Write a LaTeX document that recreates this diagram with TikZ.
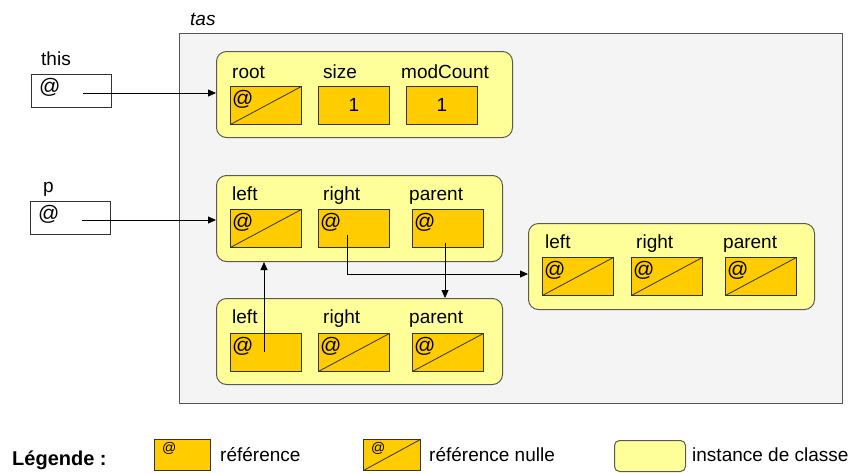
\documentclass[tikz,border=0pt]{standalone}
\usepackage{fontspec}
\setmainfont{Liberation Sans}
\usetikzlibrary{arrows.meta}
\definecolor{bggray}{HTML}{F4F4F4}
\definecolor{frameg}{HTML}{555555}
\definecolor{objyel}{HTML}{FFFF99}
\definecolor{objbord}{HTML}{5A5A50}
\definecolor{fieldor}{HTML}{FFCC00}
\definecolor{fieldbd}{HTML}{333333}
\tikzset{
  txt/.style={inner sep=0pt, anchor=base west, font=\fontsize{19}{21}\selectfont},
  attxt/.style={inner sep=0pt, anchor=base west, font=\fontsize{21}{23}\selectfont},
  obj/.style={draw=objbord, fill=objyel, line width=1pt, rounded corners=10pt, anchor=north west, minimum width=286pt, minimum height=86pt, inner sep=0pt},
  field/.style={draw=fieldbd, fill=fieldor, line width=0.9pt, anchor=north west, minimum width=71pt, minimum height=38pt, inner sep=0pt},
  nullfield/.style={field, path picture={\draw[fieldbd, line width=0.8pt] (path picture bounding box.south west) -- (path picture bounding box.north east);}},
  varbox/.style={draw=black!80, fill=white, line width=0.8pt, anchor=north west, minimum width=80pt, minimum height=33pt, inner sep=0pt},
  arr/.style={draw=black, line width=0.8pt, -{Triangle[length=8pt,width=7pt]}},
}
\begin{document}
\begin{tikzpicture}[x=1pt,y=-1pt]
\useasboundingbox (0,0) rectangle (856,472);
% tas frame
\node[draw=frameg, fill=bggray, line width=0.9pt, anchor=north west, minimum width=663pt, minimum height=370pt, inner sep=0pt] (tasbox) at (179,33) {};
\node[txt, font=\fontsize{19}{21}\selectfont\itshape] (taslbl) at (190,25) {tas};
% variables
\node[txt] (thislbl) at (41,65) {this};
\node[varbox] (thisbox) at (31,74) {};
\node[attxt] (thisat) at ([shift={(8,19)}]thisbox.north west) {@};
\coordinate (thisptr) at (83,93);
\node[txt] (plbl) at (43,192) {p};
\node[varbox] (pbox) at (30,201) {};
\node[attxt] (pat) at ([shift={(8,19)}]pbox.north west) {@};
\coordinate (pptrv) at (82,220);
% top object
\node[obj, minimum width=296pt] (topobj) at (216,51) {};
\node[txt] (l1) at (232,78) {root};
\node[txt] (l2) at (323,78) {size};
\node[txt] (l3) at (401,78) {modCount};
\node[nullfield] (rootf) at (230,86) {};
\node[field] (sizef) at (318,86) {\fontsize{19}{21}\selectfont 1};
\node[field] (modf) at (406,86) {\fontsize{19}{21}\selectfont 1};
\node[attxt] (rootat) at ([shift={(2,19)}]rootf.north west) {@};
% middle object
\node[obj] (midobj) at (216,175) {};
\node[txt] (m1) at (232,200) {left};
\node[txt] (m2) at (323,200) {right};
\node[txt] (m3) at (409,200) {parent};
\node[nullfield] (mleft) at (230,209) {};
\node[field] (mright) at (318,209) {};
\node[field] (mpar) at (412,209) {};
\node[attxt] (mleftat) at ([shift={(2,19)}]mleft.north west) {@};
\node[attxt] (mrightat) at ([shift={(2,19)}]mright.north west) {@};
\node[attxt] (mparat) at ([shift={(2,19)}]mpar.north west) {@};
% bottom object
\node[obj] (botobj) at (216,298) {};
\node[txt] (b1) at (232,323) {left};
\node[txt] (b2) at (323,323) {right};
\node[txt] (b3) at (409,323) {parent};
\node[field] (bleft) at (230,333) {};
\node[nullfield] (bright) at (318,333) {};
\node[nullfield] (bpar) at (412,333) {};
\node[attxt] (bleftat) at ([shift={(2,19)}]bleft.north west) {@};
\node[attxt] (brightat) at ([shift={(2,19)}]bright.north west) {@};
\node[attxt] (bparat) at ([shift={(2,19)}]bpar.north west) {@};
% right object
\node[obj] (rightobj) at (528,223) {};
\node[txt] (r1) at (545,248) {left};
\node[txt] (r2) at (636,248) {right};
\node[txt] (r3) at (723,248) {parent};
\node[nullfield] (rleft) at (542,257) {};
\node[nullfield] (rright) at (631,257) {};
\node[nullfield] (rpar) at (725,257) {};
\node[attxt] (rleftat) at ([shift={(2,19)}]rleft.north west) {@};
\node[attxt] (rrightat) at ([shift={(2,19)}]rright.north west) {@};
\node[attxt] (rparat) at ([shift={(2,19)}]rpar.north west) {@};
% pointers
\draw[arr] (thisptr) -- (thisptr -| topobj.west);
\draw[arr] (pptrv) -- (pptrv -| midobj.west);
\coordinate (rptr) at (347,235);
\coordinate (rturn) at (347,274);
\draw[arr] (rptr) -- (rturn) -- (rturn -| rightobj.west);
\coordinate (parptr) at (445,243);
\draw[arr] (parptr) -- (parptr |- botobj.north);
\coordinate (lptr) at (264,352);
\draw[arr] (lptr) -- (lptr |- midobj.south);
% legend
\node[txt, font=\fontsize{20}{22}\selectfont\bfseries] (leg) at (12,465) {Légende :};
\node[field, minimum width=56pt, minimum height=31pt] (legref) at (154,439) {};
\node[txt, font=\fontsize{14}{16}\selectfont] (legrefat) at ([shift={(8,13)}]legref.north west) {@};
\node[txt] (legreft) at (220,461) {référence};
\node[nullfield, minimum width=57pt, minimum height=31pt] (legnull) at (363,439) {};
\node[txt, font=\fontsize{14}{16}\selectfont] (legnullat) at ([shift={(8,13)}]legnull.north west) {@};
\node[txt] (legnullt) at (429,461) {référence nulle};
\node[obj, rounded corners=5pt, minimum width=71pt, minimum height=31pt] (leginst) at (614,440) {};
\node[txt] (leginstt) at (692,461) {instance de classe};
\end{tikzpicture}
\end{document}
